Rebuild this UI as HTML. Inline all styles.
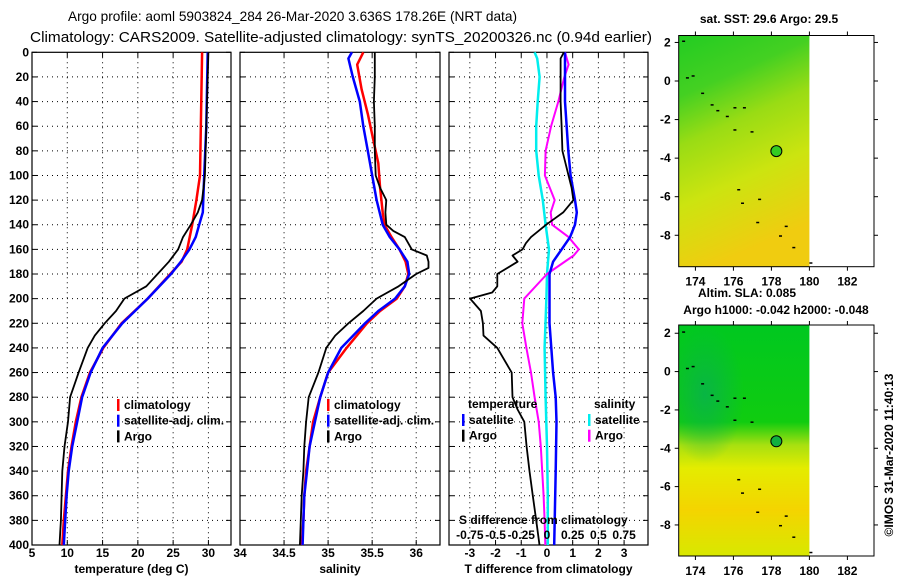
<!DOCTYPE html>
<html><head><meta charset="utf-8"><style>
body{margin:0;background:#fff;}
svg{display:block;font-family:"Liberation Sans",sans-serif;}
.tk{font-size:12px;font-weight:bold;}
</style></head><body>
<svg id="c" width="900" height="580" viewBox="0 0 900 580" xmlns="http://www.w3.org/2000/svg">
<defs>
<linearGradient id="g1" x1="0" y1="0" x2="0.25" y2="1">
<stop offset="0" stop-color="#22cc22"/><stop offset="0.25" stop-color="#44d022"/><stop offset="0.45" stop-color="#99dc14"/><stop offset="0.7" stop-color="#ccE410"/><stop offset="1" stop-color="#f0cc10"/></linearGradient>
<linearGradient id="g2" x1="0" y1="0" x2="0" y2="1">
<stop offset="0" stop-color="#00c820"/><stop offset="0.42" stop-color="#10cc10"/><stop offset="0.52" stop-color="#a8e010"/><stop offset="0.62" stop-color="#e4ec00"/><stop offset="0.8" stop-color="#f4d400"/><stop offset="1" stop-color="#d8e800"/></linearGradient>
<radialGradient id="g3" cx="0.2" cy="0.3" r="0.3"><stop offset="0" stop-color="#08b050" stop-opacity="0.8"/><stop offset="1" stop-color="#08b050" stop-opacity="0"/></radialGradient>
</defs>
<text x="68" y="21" font-size="14" textLength="449" lengthAdjust="spacingAndGlyphs">Argo profile: aoml 5903824_284 26-Mar-2020 3.636S 178.26E (NRT data)</text>
<text x="30" y="42" font-size="15" textLength="622" lengthAdjust="spacingAndGlyphs">Climatology: CARS2009. Satellite-adjusted climatology: synTS_20200326.nc (0.94d earlier)</text>
<g id="plots"></g>
</svg>
<script>
// ---- data ----
const depthTicks=[0,20,40,60,80,100,120,140,160,180,200,220,240,260,280,300,320,340,360,380,400];
const tempTicks=[5,10,15,20,25,30];
const salTicks=[34,34.5,35,35.5,36];
const tdiffTicks=[-3,-2,-1,0,1,2,3];
const sdiffTicks=["-0.75","-0.5","-0.25","0","0.25","0.5","0.75"];

const tClimDepth=[0,100,120,130,140,160,170,180,200,220,240,260,280,300,320,340,360,380,400];
const tClim=[29.1,28.8,28.3,28.0,27.7,27.0,26.2,24.6,21.4,17.7,15.1,13.2,12.0,11.2,10.6,10.1,9.8,9.5,9.3];
const tSatDepth=[0,60,100,130,140,150,160,170,180,200,220,240,260,280,300,320,340,360,380,400];
const tSat=[29.9,29.7,29.4,29.2,28.7,28.2,27.3,26.1,24.7,21.4,17.8,15.0,13.3,12.1,11.4,10.7,10.2,9.9,9.7,9.5];
const tArgoDepth=[0,100,120,130,140,150,160,170,180,190,200,210,220,230,240,260,280,300,320,340,360,380,400];
const tArgo=[30.0,29.5,29.1,28.5,27.5,26.4,25.7,24.4,22.8,21.2,18.1,16.9,15.3,13.9,12.9,11.6,10.4,10.1,9.6,9.3,9.2,9.1,8.9];

const sClimDepth=[0,10,30,50,70,90,110,130,140,150,160,170,180,190,200,210,220,240,260,280,300,320,340,360,380,400];
const sClim=[35.40,35.33,35.38,35.45,35.51,35.57,35.59,35.62,35.64,35.72,35.81,35.88,35.91,35.87,35.78,35.59,35.44,35.21,35.0,34.91,34.83,34.79,34.75,34.73,34.72,34.70];
const sSatDepth=[0,5,20,40,60,80,100,120,140,150,160,170,180,190,200,210,220,240,260,280,300,320,340,360,380,400];
const sSat=[35.27,35.23,35.28,35.36,35.40,35.45,35.50,35.55,35.62,35.70,35.81,35.90,35.92,35.87,35.76,35.57,35.42,35.15,35.0,34.91,34.85,34.79,34.76,34.73,34.72,34.71];
const sArgoDepth=[0,20,40,60,80,100,110,120,130,140,145,150,160,165,170,175,180,190,200,210,220,230,240,260,280,300,320,340,360,380,400];
const sArgo=[35.53,35.53,35.52,35.53,35.53,35.54,35.59,35.66,35.65,35.66,35.74,35.87,35.95,36.12,36.14,36.14,36.0,35.80,35.55,35.40,35.23,35.08,34.98,34.89,34.78,34.75,34.73,34.72,34.70,34.69,34.68];

const dtSatDepth=[0,40,80,100,120,130,140,150,160,170,180,200,220,240,260,280,300,340,400];
const dtSat=[0.70,0.70,0.83,0.92,1.09,1.16,1.09,0.9,0.57,0.24,0.1,0.1,0.1,0.17,0.24,0.34,0.37,0.34,0.28];
const dtArgoDepth=[0,5,40,60,80,110,120,130,140,150,155,160,165,170,180,190,195,200,210,220,230,240,260,280,290,300,320,340,360,380,400];
const dtArgo=[0.66,0.53,0.53,0.57,0.6,0.96,1.03,0.63,-0.03,-0.62,-0.82,-0.95,-1.34,-1.14,-1.93,-1.93,-2.13,-2.99,-2.57,-2.49,-2.47,-1.93,-1.37,-1.34,-1.14,-0.88,-0.79,-0.68,-0.55,-0.42,-0.29];
const dsSatDepth=[0,5,20,40,60,80,100,120,140,160,180,200,240,280,320,360,400];
const dsSat=[-0.12,-0.095,-0.072,-0.09,-0.105,-0.105,-0.08,-0.04,-0.013,0.02,0,-0.005,-0.023,-0.013,0,0.008,0.008];
const dsArgoDepth=[0,10,20,40,60,80,100,120,130,140,150,160,165,180,200,220,240,260,280,300,320,340,360,380,400];
const dsArgo=[0.175,0.21,0.17,0.11,0.04,-0.013,-0.02,0.075,0.036,0.05,0.21,0.31,0.26,0,-0.22,-0.24,-0.2,-0.155,-0.12,-0.08,-0.06,-0.046,-0.033,-0.023,-0.016];

const mapLonTicks=[174,176,178,180,182];
const mapLatTicks=[2,0,-2,-4,-6,-8];
const argoLon=178.26, argoLat=-3.636;

// ---- helpers ----
const NS="http://www.w3.org/2000/svg";
const G=document.getElementById('plots');
function mk(tag,attrs,parent){const e=document.createElementNS(NS,tag);for(const k in attrs)e.setAttribute(k,attrs[k]);(parent||G).appendChild(e);return e;}
function txt(x,y,s,anchor,cls,parent){const t=mk('text',{x:x,y:y,'text-anchor':anchor||'start','class':cls||'tk'},parent);t.textContent=s;return t;}
const Y0=52.3,Y1=545;
const yD=d=>Y0+(Y1-Y0)*d/400;

function panel(name,x0,x1,xmin,xmax,xt,xlabels,title,showY){
  const g=mk('g',{});
  
  
  const xs=v=>x0+(x1-x0)*(v-xmin)/(xmax-xmin);
  depthTicks.forEach(d=>{ if(d>0&&d<400) mk('line',{x1:x0,x2:x1,y1:yD(d),y2:yD(d),stroke:'#000','stroke-width':1,'stroke-dasharray':'1,4'},g);
    mk('line',{x1:x0,x2:x0+5,y1:yD(d),y2:yD(d),stroke:'#000'},g);mk('line',{x1:x1-5,x2:x1,y1:yD(d),y2:yD(d),stroke:'#000'},g);
    if(showY) txt(x0-3,yD(d)+4,String(d),'end','tk',g);});
  xt.forEach((v,i)=>{const x=xs(v);
    if(x>x0+1&&x<x1-1) mk('line',{x1:x,x2:x,y1:Y0,y2:Y1,stroke:'#000','stroke-dasharray':'1,4'},g);
    mk('line',{x1:x,x2:x,y1:Y0,y2:Y0+5,stroke:'#000'},g);mk('line',{x1:x,x2:x,y1:Y1-5,y2:Y1,stroke:'#000'},g);
    txt(x,557,xlabels[i],'middle','tk',g);});
  mk('rect',{x:x0,y:Y0,width:x1-x0,height:Y1-Y0,fill:'none',stroke:'#000','stroke-width':1.2},g);
  txt((x0+x1)/2,573,title,'middle','tk',g);
  return {g,xs};
}
function line(p,depths,vals,color,w,name,scale){
  let d='';vals.forEach((v,i)=>{d+=(i?'L':'M')+p.xs(v*(scale||1)).toFixed(1)+','+yD(depths[i]).toFixed(1);});
  const e=mk('path',{d:d,fill:'none',stroke:color,'stroke-width':w,'stroke-linejoin':'round'},p.g);
  
  
}
function legend(g,x,y,items){
  items.forEach((it,i)=>{mk('rect',{x:x,y:y+i*15.7-10,width:2.5,height:12,fill:it[1]},g);txt(x+7,y+i*15.7,it[0],'start','tk',g);});
}

// panel 1 temperature
const p1=panel('temperature-panel',32,231,5,33.2,tempTicks,tempTicks.map(String),'temperature (deg C)',true);
line(p1,tClimDepth,tClim,'#f00',2.5,'temp-climatology-line');
line(p1,tSatDepth,tSat,'#00f',2.5,'temp-satellite-line');
line(p1,tArgoDepth,tArgo,'#000',1.8,'temp-argo-line');
const l1=mk('g',{},p1.g);
legend(l1,117,409,[['climatology','#f00'],['satellite-adj. clim.','#00f'],['Argo','#000']]);

// panel 2 salinity
const p2=panel('salinity-panel',240,440,34,36.27,salTicks,salTicks.map(String),'salinity',false);
line(p2,sClimDepth,sClim,'#f00',2.5,'sal-climatology-line');
line(p2,sSatDepth,sSat,'#00f',2.5,'sal-satellite-line');
line(p2,sArgoDepth,sArgo,'#000',1.8,'sal-argo-line');
const l2=mk('g',{},p2.g);
legend(l2,327,409,[['climatology','#f00'],['satellite-adj. clim.','#00f'],['Argo','#000']]);

// panel 3 differences
const p3=panel('diff-panel',449,648,-3.81,3.93,tdiffTicks,tdiffTicks.map(String),'T difference from climatology',false);
line(p3,dsSatDepth,dsSat,'#0ee',2.5,'sdiff-satellite-line',4);
line(p3,dsArgoDepth,dsArgo,'#f0f',2,'sdiff-argo-line',4);
line(p3,dtSatDepth,dtSat,'#00f',2.5,'tdiff-satellite-line');
line(p3,dtArgoDepth,dtArgo,'#000',1.8,'tdiff-argo-line');
const l3=mk('g',{},p3.g);
txt(468,408,'temperature','start','tk',l3);txt(594,408,'salinity','start','tk',l3);
legend(l3,462,424,[['satellite','#00f'],['Argo','#000']]);
legend(l3,588,424,[['satellite','#0ee'],['Argo','#f0f']]);
const sl=txt(459,524,'S difference from climatology','start','tk',p3.g);

const sdg=mk('g',{},p3.g);
sdiffTicks.forEach(s=>{const v=parseFloat(s);txt(p3.xs(v*4),539,s,'middle','tk',sdg);});

// maps
function map(name,y0,y1,latMin,latMax,fill,extra){
  const g=mk('g',{});
  const x0=678.7,x1=874,lonMin=173.12,lonMax=183.4;
  const xs=v=>x0+(x1-x0)*(v-lonMin)/(lonMax-lonMin);
  const ys=v=>y1-(y1-y0)*(v-latMin)/(latMax-latMin);
  mk('rect',{x:x0,y:y0,width:xs(180)-x0,height:y1-y0,fill:fill},g);
  if(extra) mk('rect',{x:x0,y:y0,width:xs(180)-x0,height:y1-y0,fill:extra},g);
  [[173.3,2.1],[173.5,0.2],[173.8,0.3],[174.3,-0.6],[174.8,-1.2],[175.1,-1.5],[175.6,-1.8],[176,-1.35],[176.5,-1.35],[176,-2.5],[176.9,-2.6],[176.2,-5.6],[176.4,-6.3],[177.3,-6.1],[177.2,-7.3],[178.7,-7.5],[178.4,-8.0],[179.1,-8.6],[180,-9.4]].forEach(p=>mk('rect',{x:xs(p[0]),y:ys(p[1]),width:3,height:1.5,fill:'#000'},g));
  mk('rect',{x:x0,y:y0,width:x1-x0,height:y1-y0,fill:'none',stroke:'#000'},g);
  mapLonTicks.forEach(v=>{const x=xs(v);mk('line',{x1:x,x2:x,y1:y1,y2:y1+4,stroke:'#000'},g);mk('line',{x1:x,x2:x,y1:y0,y2:y0-4,stroke:'#000'},g);txt(x,y1+19,String(v),'middle','tk',g);});
  mapLatTicks.forEach(v=>{const y=ys(v);mk('line',{x1:x0,x2:x0-4,y1:y,y2:y,stroke:'#000'},g);mk('line',{x1:x1,x2:x1+4,y1:y,y2:y,stroke:'#000'},g);txt(x0-8,y+4,String(v),'end','tk',g);});
  const c=mk('circle',{cx:xs(argoLon),cy:ys(argoLat),r:5.5,fill:name==='sla-map'?'#10b040':'#33cc22',stroke:'#000'},g);
  
}
map('sst-map',35.5,266.7,-9.63,2.36,'url(#g1)');
map('sla-map',325,556,-9.62,2.43,'url(#g2)','url(#g3)');
const t0=txt(769,23,'sat. SST: 29.6 Argo: 29.5','middle','tk');

const t1=txt(747,297,'Altim. SLA: 0.085','middle','tk');

const t2=txt(776,314,'Argo h1000: -0.042 h2000: -0.048','middle','tk');

const cr=txt(0,0,'©IMOS 31-Mar-2020 11:40:13','middle','');
cr.setAttribute('font-size','12');cr.setAttribute('transform','translate(893,455) rotate(-90)');

</script>
</body></html>
